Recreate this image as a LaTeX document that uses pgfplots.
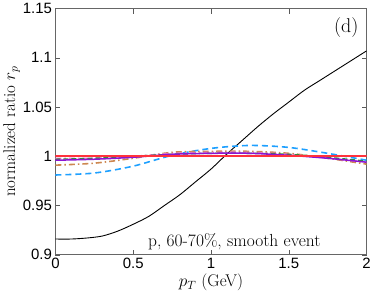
\documentclass[border=0pt]{standalone}
\usepackage{fontspec}
\usepackage{pgfplots}
\pgfplotsset{compat=1.18}
\newfontfamily\arial{Liberation Sans}
\definecolor{cblue}{RGB}{30,160,255}
\definecolor{corange}{RGB}{205,135,80}
\definecolor{cpink}{RGB}{230,120,200}
\definecolor{cgreen}{RGB}{50,140,60}
\definecolor{cpurple}{RGB}{140,20,210}
\definecolor{cred}{RGB}{255,50,60}
\begin{document}
\begin{tikzpicture}
\begin{axis}[
  scale only axis, width=312pt, height=247pt,
  xmin=0, xmax=2, ymin=0.9, ymax=1.15,
  xtick={0,0.5,1,1.5,2}, ytick={0.9,0.95,1,1.05,1.1,1.15},
  xticklabels={0,0.5,1,1.5,2},
  yticklabels={0.9,0.95,1,1.05,1.1,1.15},
  tick label style={font=\fontsize{15}{17}\selectfont\arial},
  /pgf/number format/assume math mode=true,
  tick align=inside, major tick length=5pt,
  axis line style={gray!80!black, line width=0.8pt},
  tick style={gray!70!black},
  xlabel={$p_T$ (GeV)}, ylabel={normalized ratio $r_p$},
  label style={font=\fontsize{17}{19}\selectfont},
  xlabel style={yshift=2pt},
  ylabel style={yshift=-4pt},
  clip=true,
]
\addplot[black, line width=0.9pt, smooth] coordinates {
(0,0.916)(0.1,0.916)(0.2,0.917)(0.3,0.919)(0.4,0.924)(0.5,0.931)(0.6,0.939)(0.7,0.950)(0.8,0.961)(0.9,0.974)(1.0,0.987)(1.1,1.002)(1.2,1.016)(1.3,1.030)(1.4,1.043)(1.5,1.055)(1.6,1.067)(1.7,1.077)(1.8,1.087)(1.9,1.097)(2.0,1.107)};
\addplot[cblue, line width=1.6pt, dash pattern=on 6pt off 4pt, smooth] coordinates {
(0,0.981)(0.25,0.983)(0.5,0.990)(0.75,1.001)(1,1.008)(1.25,1.011)(1.5,1.009)(1.75,1.003)(2,0.996)};
\addplot[corange, line width=1.6pt, dash pattern=on 6pt off 3pt on 1.5pt off 3pt, smooth] coordinates {
(0,0.991)(0.25,0.993)(0.5,0.998)(0.75,1.004)(1,1.005)(1.25,1.005)(1.5,1.003)(1.75,0.998)(2,0.992)};
\addplot[cpink, line width=1.4pt, dash pattern=on 6pt off 3pt on 1.5pt off 3pt, smooth] coordinates {
(0,0.998)(0.25,0.998)(0.5,1.000)(0.75,1.003)(1,1.004)(1.25,1.004)(1.5,1.002)(1.75,0.998)(2,0.994)};
\addplot[cgreen, line width=1.4pt, dash pattern=on 5pt off 3pt, smooth] coordinates {
(0,0.997)(0.25,0.998)(0.5,1.000)(0.75,1.002)(1,1.003)(1.25,1.003)(1.5,1.002)(1.75,0.999)(2,0.995)};
\addplot[cpurple, line width=1.5pt, smooth] coordinates {
(0,0.996)(0.25,0.997)(0.5,0.999)(0.75,1.002)(1,1.003)(1.25,1.003)(1.5,1.001)(1.75,0.998)(2,0.994)};
\addplot[cred, line width=1.6pt] coordinates {(0,1.000)(2,1.000)};
\node[font=\fontsize{20}{22}\selectfont] at (axis cs:1.87,1.131) {(d)};
\node[font=\fontsize{17.5}{19}\selectfont] at (axis cs:1.15,0.913) {p, 60-70\%, smooth event};
\end{axis}
\end{tikzpicture}
\end{document}
